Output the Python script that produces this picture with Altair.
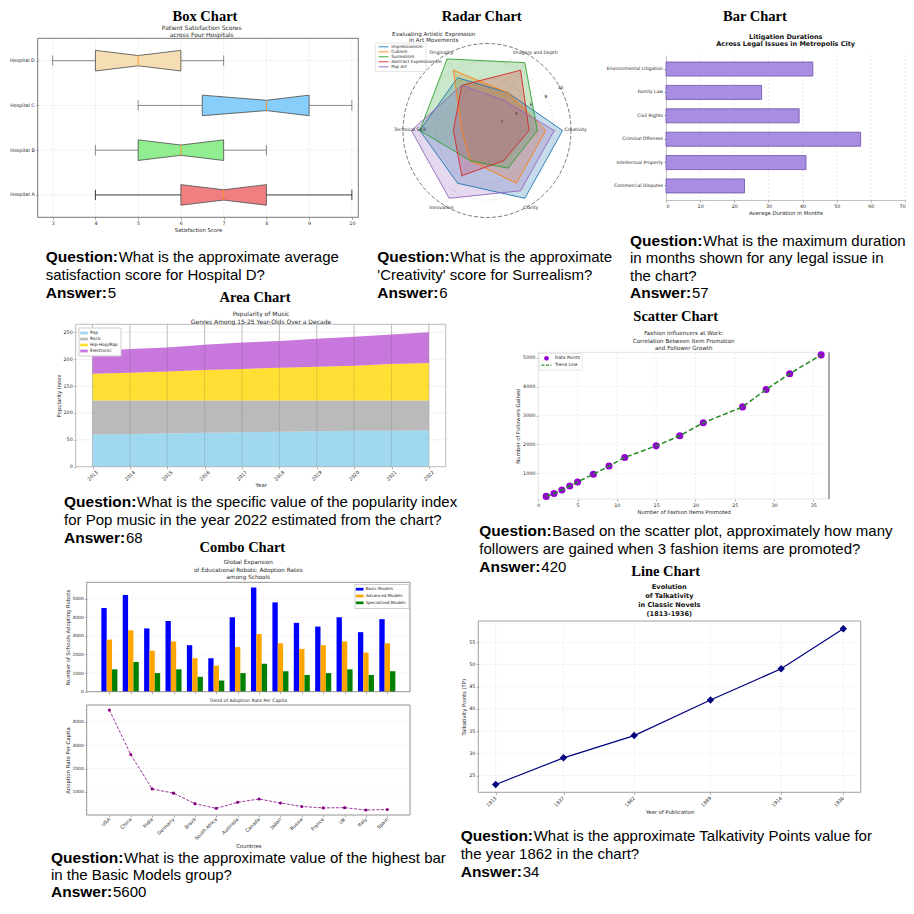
import json
import altair as alt
import numpy as np
import pandas as pd

# ======================= DATA =======================
# Box chart
hospitals = ["Hospital A", "Hospital B", "Hospital C", "Hospital D"]
box_low = [4, 4, 5, 3]
box_q1 = [6, 5, 6.5, 4]
box_median = [7, 6, 8, 5]
box_q3 = [8, 7, 9, 6]
box_high = [10, 8, 10, 7]

# Radar chart
radar_axes = ["Creativity", "Imagery and Depth", "Originality", "Technical Skill", "Innovation", "Clarity"]
movements = ["Impressionism", "Cubism", "Surrealism", "Abstract Expressionism", "Pop Art"]
impressionism = [9, 5, 7, 8, 7, 9]
cubism = [7, 5, 8, 3, 4, 7]
surrealism = [6, 9, 9.5, 8, 4, 5]
abstract_expr = [5, 8, 6, 4, 6, 4]
pop_art = [8, 4, 6, 9, 9, 8]
radar_ticks = [2, 4, 6, 8, 10]

# Bar chart
legal_issues = ["Environmental Litigation", "Family Law", "Civil Rights",
                "Criminal Offenses", "Intellectual Property", "Commercial Disputes"]
durations = [43, 28, 39, 57, 41, 23]

# Area chart
years = [2013, 2014, 2015, 2016, 2017, 2018, 2019, 2020, 2021, 2022]
genres = ["Pop", "Rock", "Hip-Hop/Rap", "Electronic"]
pop = [60, 61, 62, 63, 64, 65, 66, 67, 67, 68]
rock = [63, 62, 61, 60, 59, 58, 57, 56, 56, 55]
hiphop = [50, 52, 54, 57, 59, 61, 63, 65, 68, 70]
electronic = [42, 44, 45, 47, 49, 50, 52, 54, 55, 57]

# Scatter chart
items_promoted = [1, 2, 3, 4, 5, 7, 9, 11, 15, 18, 21, 26, 29, 32, 36]
followers_gained = [200, 300, 420, 560, 700, 970, 1250, 1550, 1950, 2300, 2750, 3300, 3900, 4450, 5100]

# Combo chart
countries = ["USA", "China", "India", "Germany", "Brazil", "South Africa", "Australia",
             "Canada", "Japan", "Russia", "France", "UK", "Italy", "Spain"]
model_groups = ["Basic Models", "Advanced Models", "Specialized Models"]
basic_models = [4500, 5200, 3400, 3800, 2500, 1800, 4000, 5600, 4800, 3700, 3500, 4000, 3200, 3900]
advanced_models = [2800, 3300, 2200, 2700, 1800, 1400, 2400, 3100, 2600, 2300, 2500, 2700, 2100, 2600]
specialized_models = [1200, 1600, 1000, 1200, 800, 600, 1000, 1500, 1100, 900, 1000, 1200, 900, 1100]
adoption_per_capita = [4500, 2600, 1130, 950, 500, 300, 560, 700, 530, 380, 320, 330, 230, 250]

# Line chart
pub_years = [1813, 1837, 1862, 1889, 1914, 1936]
talkativity = [23, 29, 34, 42, 49, 58]

# ======================= STYLE / LAYOUT =======================
W, H = 898, 893
FONT = "DejaVu Sans"
QFONT = "Liberation Sans"
HFONT = "Liberation Serif"
INK = "#262626"
box_colors = ["#F08080", "#90EE90", "#87CEFA", "#F5DEB3"]
whisker_colors = ["#111111", "#6e6e6e", "#6e6e6e", "#6e6e6e"]
radar_colors = ["#1f77b4", "#ff7f0e", "#2ca02c", "#d62728", "#9467bd"]
genre_colors = ["#87CEEB", "#A9A9A9", "#FFD700", "#BA55D3"]
model_colors = ["#0000FF", "#FFA500", "#008000"]
ONE = pd.DataFrame({"k": [0]})
RECT_SYM = "M-1.4,-0.5H1.4V0.5H-1.4Z"


def P(v):
    return v - 8


def lin(domain, r0, r1):
    return alt.Scale(domain=list(domain), range=[P(r0), P(r1)], zero=False, nice=False)


def txt(s, x, y, size, font=FONT, weight="normal", align="center", baseline="middle",
        color=INK, angle=None):
    kw = dict(text=s, fontSize=size, font=font, fontWeight=weight, align=align,
              baseline=baseline, color=color)
    if angle is not None:
        kw["angle"] = angle
    return alt.Chart(ONE).mark_text(**kw).encode(x=alt.value(P(x)), y=alt.value(P(y)))


def question(x, y0, lines, answer, lh=18, qw=73, aw=62):
    c = "#000000"
    out = [txt("Question:", x, y0, 15.5, QFONT, "bold", "left", "alphabetic", c),
           txt(lines[0], x + qw, y0, 15, QFONT, "normal", "left", "alphabetic", c)]
    for i, ln in enumerate(lines[1:], 1):
        out.append(txt(ln, x, y0 + i * lh, 15, QFONT, "normal", "left", "alphabetic", c))
    ya = y0 + len(lines) * lh
    out.append(txt("Answer:", x, ya, 15.5, QFONT, "bold", "left", "alphabetic", c))
    out.append(txt(answer, x + aw, ya, 15, QFONT, "normal", "left", "alphabetic", c))
    return out


def heading(s, x, y):
    return txt(s, x, y, 14.5, HFONT, "bold", "center", "alphabetic", "#000000")


def base_axis(**kw):
    d = dict(labelFont=FONT, titleFont=FONT, labelFontSize=4.8, titleFontSize=5.3,
             labelColor=INK, titleColor=INK, titleFontWeight="normal", tickSize=2,
             tickColor="#555555", tickWidth=0.5, labelPadding=1.5, titlePadding=2,
             domain=False, grid=False, labelFlush=False, labelOverlap=False)
    d.update(kw)
    return d


def xaxis(values, y_bottom, title, **kw):
    d = base_axis(orient="bottom", offset=P(y_bottom) - H, title=title)
    if values is not None:
        d["values"] = values
    d.update(kw)
    return alt.Axis(**d)


def yaxis(values, x_left, title, **kw):
    d = base_axis(orient="left", offset=-P(x_left), title=title)
    if values is not None:
        d["values"] = values
    d.update(kw)
    return alt.Axis(**d)


def frame(xs, ys, xa, ya, xd, yd, color, width=0.8):
    df = pd.DataFrame({"a": [xd[0]], "b": [xd[1]], "c": [yd[0]], "d": [yd[1]]})
    return alt.Chart(df).mark_rect(filled=False, stroke=color, strokeWidth=width).encode(
        x=alt.X("a:Q", scale=xs, axis=xa), x2="b:Q",
        y=alt.Y("c:Q", scale=ys, axis=ya), y2="d:Q")


def vgrid(xs, ys, xa, ya, ticks, yd, color="#d0d0d0", dash=(2, 2), width=0.5, opacity=1.0):
    df = pd.DataFrame({"v": ticks, "lo": [yd[0]] * len(ticks), "hi": [yd[1]] * len(ticks)})
    kw = dict(color=color, strokeWidth=width, opacity=opacity)
    if dash:
        kw["strokeDash"] = list(dash)
    return alt.Chart(df).mark_rule(**kw).encode(
        x=alt.X("v:Q", scale=xs, axis=xa), y=alt.Y("lo:Q", scale=ys, axis=ya), y2="hi:Q")


def hgrid(xs, ys, xa, ya, ticks, xd, color="#d0d0d0", dash=(2, 2), width=0.5, opacity=1.0):
    df = pd.DataFrame({"v": ticks, "lo": [xd[0]] * len(ticks), "hi": [xd[1]] * len(ticks)})
    kw = dict(color=color, strokeWidth=width, opacity=opacity)
    if dash:
        kw["strokeDash"] = list(dash)
    return alt.Chart(df).mark_rule(**kw).encode(
        y=alt.Y("v:Q", scale=ys, axis=ya), x=alt.X("lo:Q", scale=xs, axis=xa), x2="hi:Q")


layers = []

# ======================= BOX CHART =======================
bxd, byd = [2.65, 10.15], [0.5, 4.5]
bxs = lin(bxd, 37.7, 358.3)
bys = lin(byd, 217.3, 38.3)
box_xt = list(range(3, 11))
box_yt = [1, 2, 3, 4]
bxa = xaxis(box_xt, 217.3, "Satisfaction Score")
bya = yaxis(box_yt, 37.7, None, labelExpr=json.dumps([""] + hospitals) + "[datum.value]")
BW, NW = 0.23, 0.115
poly_rows, edge_rows, stat_rows = [], [], []
for i, hname in enumerate(hospitals):
    c = i + 1
    for xv, half in ((box_q1[i], BW), (box_median[i], NW), (box_q3[i], BW)):
        poly_rows.append({"h": hname, "x": xv, "top": c + half, "bot": c - half})
    pts = [(box_q1[i], c + BW), (box_median[i], c + NW), (box_q3[i], c + BW),
           (box_q3[i], c - BW), (box_median[i], c - NW), (box_q1[i], c - BW), (box_q1[i], c + BW)]
    for o, (xv, yv) in enumerate(pts):
        edge_rows.append({"h": hname, "o": o, "x": xv, "y": yv})
    stat_rows.append({"h": hname, "c": c, "lo": box_low[i], "q1": box_q1[i], "med": box_median[i],
                      "q3": box_q3[i], "hi": box_high[i], "clo": c - NW, "chi": c + NW})
poly_df, edge_df, stat_df = pd.DataFrame(poly_rows), pd.DataFrame(edge_rows), pd.DataFrame(stat_rows)


def BX(f):
    return alt.X(f, scale=bxs, axis=bxa)


def BY(f):
    return alt.Y(f, scale=bys, axis=bya)


wstroke = alt.Stroke("h:N", scale=alt.Scale(domain=hospitals, range=whisker_colors), legend=None)
box_layer = alt.layer(
    vgrid(bxs, bys, bxa, bya, box_xt, byd),
    hgrid(bxs, bys, bxa, bya, box_yt, bxd),
    alt.Chart(poly_df).mark_area(opacity=1).encode(
        x=BX("x:Q"), y=BY("top:Q"), y2="bot:Q",
        color=alt.Color("h:N", scale=alt.Scale(domain=hospitals, range=box_colors), legend=None)),
    alt.Chart(edge_df).mark_line(color="#4a4a4a", strokeWidth=0.8).encode(
        x=BX("x:Q"), y=BY("y:Q"), detail="h:N", order="o:Q"),
    alt.Chart(stat_df).mark_rule(strokeWidth=0.8).encode(x=BX("lo:Q"), x2="q1:Q", y=BY("c:Q"), stroke=wstroke),
    alt.Chart(stat_df).mark_rule(strokeWidth=0.8).encode(x=BX("q3:Q"), x2="hi:Q", y=BY("c:Q"), stroke=wstroke),
    alt.Chart(stat_df).mark_rule(strokeWidth=0.8).encode(x=BX("lo:Q"), y=BY("clo:Q"), y2="chi:Q", stroke=wstroke),
    alt.Chart(stat_df).mark_rule(strokeWidth=0.8).encode(x=BX("hi:Q"), y=BY("clo:Q"), y2="chi:Q", stroke=wstroke),
    alt.Chart(stat_df).mark_rule(color="#FF8C1A", strokeWidth=0.9).encode(x=BX("med:Q"), y=BY("clo:Q"), y2="chi:Q"),
    frame(bxs, bys, bxa, bya, bxd, byd, "#555555"),
)
layers.append(box_layer)
layers += [heading("Box Chart", 205, 21.2),
           txt("Patient Satisfaction Scores", 201.7, 27.8, 6),
           txt("across Four Hospitals", 201.7, 34.6, 6)]
layers += question(45.7, 262.3, ["What is the approximate average", "satisfaction score for Hospital D?"], "5")

# ======================= RADAR CHART =======================
rcx, rcy, rrx, rry = 487, 130.5, 84, 87
rxs = lin([-10, 10], rcx - rrx, rcx + rrx)
rys = lin([-10, 10], rcy + rry, rcy - rry)


def RX(f):
    return alt.X(f, scale=rxs, axis=None)


def RY(f):
    return alt.Y(f, scale=rys, axis=None)


ring_rows = []
for r in radar_ticks:
    for o, a in enumerate(np.linspace(0, 2 * np.pi, 121)):
        ring_rows.append({"r": r, "o": o, "x": r * np.cos(a), "y": r * np.sin(a)})
ring_df = pd.DataFrame(ring_rows)
spoke_df = pd.DataFrame({"x0": [0.0] * 6, "y0": [0.0] * 6,
                         "x": [10 * np.cos(np.deg2rad(60 * k)) for k in range(6)],
                         "y": [10 * np.sin(np.deg2rad(60 * k)) for k in range(6)]})
radar_series = [impressionism, cubism, surrealism, abstract_expr, pop_art]
rrows = []
for m, vals in zip(movements, radar_series):
    for o in range(7):
        k = o % 6
        th = np.deg2rad(60 * k)
        rrows.append({"m": m, "mf": m, "o": o, "x": vals[k] * np.cos(th), "y": vals[k] * np.sin(th)})
radar_df = pd.DataFrame(rrows)
rtick_df = pd.DataFrame({"t": [str(v) for v in radar_ticks],
                         "x": [v * np.cos(np.deg2rad(29)) for v in radar_ticks],
                         "y": [v * np.sin(np.deg2rad(29)) for v in radar_ticks]})
radar_layer = alt.layer(
    alt.Chart(ring_df).transform_filter("datum.r < 10").mark_line(
        color="#c8c8c8", strokeWidth=0.5, strokeDash=[2, 2]).encode(
        x=RX("x:Q"), y=RY("y:Q"), detail="r:N", order="o:Q"),
    alt.Chart(spoke_df).mark_rule(color="#d0d0d0", strokeWidth=0.5, strokeDash=[2, 2]).encode(
        x=RX("x0:Q"), y=RY("y0:Q"), x2="x:Q", y2="y:Q"),
    alt.Chart(radar_df).mark_line(filled=True, fillOpacity=0.25, strokeWidth=0).encode(
        x=RX("x:Q"), y=RY("y:Q"), order="o:Q",
        fill=alt.Fill("mf:N", scale=alt.Scale(domain=movements, range=radar_colors), legend=None)),
    alt.Chart(radar_df).mark_line(strokeWidth=0.9).encode(
        x=RX("x:Q"), y=RY("y:Q"), order="o:Q",
        color=alt.Color("m:N", scale=alt.Scale(domain=movements, range=radar_colors), legend=None)),
    alt.Chart(ring_df).transform_filter("datum.r == 10").mark_line(
        color="#444444", strokeWidth=0.7, strokeDash=[4, 2]).encode(
        x=RX("x:Q"), y=RY("y:Q"), detail="r:N", order="o:Q"),
    alt.Chart(rtick_df).mark_text(fontSize=4.4, font=FONT, color=INK).encode(
        x=RX("x:Q"), y=RY("y:Q"), text="t:N"),
)
layers.append(radar_layer)
radar_label_pos = [(575.7, 130), (535.3, 52.7), (441.5, 52.7), (410, 130), (441.5, 208.3), (530.7, 208.3)]
for lab, (lx, ly) in zip(radar_axes, radar_label_pos):
    layers.append(txt(lab, lx, ly, 4.6))
layers += [heading("Radar Chart", 481.7, 21.2),
           txt("Evaluating Artistic Expression", 433.7, 33.6, 5.6),
           txt("in Art Movements", 433.7, 39.8, 5.6)]
# radar legend box
layers.append(alt.Chart(ONE).mark_rect(fill="white", fillOpacity=0.8, stroke="#cccccc", strokeWidth=0.5).encode(
    x=alt.value(P(375.3)), x2=alt.value(P(426)), y=alt.value(P(43.2)), y2=alt.value(P(71.4))))
for i, (m, col) in enumerate(zip(movements, radar_colors)):
    ly = 46.8 + 5.0 * i
    layers.append(alt.Chart(ONE).mark_rule(color=col, strokeWidth=0.9).encode(
        x=alt.value(P(378.5)), x2=alt.value(P(388.5)), y=alt.value(P(ly))))
    layers.append(txt(m, 391.3, ly, 4.3, align="left"))
layers += question(377.3, 262.3, ["What is the approximate", "'Creativity' score for Surrealism?"], "6")

# ======================= BAR CHART =======================
bar_xd = [0, 70]
bar_xs = lin(bar_xd, 666, 905)
bar_ys = alt.Scale(domain=legal_issues, range=[P(55), P(200)], paddingInner=0.4, paddingOuter=0.3)
bar_xt = list(range(0, 71, 10))
bar_xa = xaxis(bar_xt, 200, "Average Duration in Months", labelFlush=True,
               domain=True, domainColor="#999999", domainWidth=0.6)
bar_ya = yaxis(None, 666, None, domain=True, domainColor="#999999", domainWidth=0.6,
               labelFontSize=4.6)
bar_df = pd.DataFrame({"issue": legal_issues, "d": durations})
bar_grid_df = pd.DataFrame({"v": bar_xt[1:]})
bar_layer = alt.layer(
    alt.Chart(bar_grid_df).mark_rule(color="#d0d0d0", strokeWidth=0.5, strokeDash=[2, 2]).encode(
        x=alt.X("v:Q", scale=bar_xs, axis=bar_xa), y=alt.value(P(55)), y2=alt.value(P(200))),
    alt.Chart(bar_df).mark_bar(color="#A98DE2", stroke="#6A51A3", strokeWidth=0.8).encode(
        x=alt.X("d:Q", scale=bar_xs, axis=bar_xa), x2=alt.datum(0),
        y=alt.Y("issue:N", scale=bar_ys, axis=bar_ya)),
)
layers.append(bar_layer)
layers += [heading("Bar Chart", 755, 21.2),
           txt("Litigation Durations", 785.7, 36.7, 6.5, weight="bold", color="#111111"),
           txt("Across Legal Issues in Metropolis City", 785.7, 44.3, 6.5, weight="bold", color="#111111")]
layers += question(630, 246, ["What is the maximum duration", "in months shown for any legal issue in",
                              "the chart?"], "57", lh=17.3)

# ======================= AREA CHART =======================
axd, ayd = [2012.55, 2022.45], [0, 265]
axs = lin(axd, 75.7, 445.7)
ays = lin(ayd, 466.7, 324.3)
area_yt = list(range(0, 251, 50))
area_xa = xaxis(years, 466.7, "Year", format="d", labelAngle=-45, labelAlign="center",
                labelBaseline="middle", labelPadding=7, titlePadding=1)
area_ya = yaxis(area_yt, 75.7, "Popularity Index")
area_rows = []
for g, vals in enumerate([pop, rock, hiphop, electronic]):
    for yr, v in zip(years, vals):
        area_rows.append({"year": yr, "genre": genres[g], "g": g, "v": v})
area_df = pd.DataFrame(area_rows)
area_legend = alt.Legend(title=None, orient="none", legendX=P(78.5), legendY=P(327.5),
                         symbolType=RECT_SYM, symbolSize=30, symbolStrokeWidth=0,
                         labelFont=FONT, labelFontSize=4.4, labelColor=INK,
                         fillColor="white", strokeColor="#cccccc", padding=2.5,
                         rowPadding=1, labelOffset=3, symbolOpacity=0.8)
area_layer = alt.layer(
    hgrid(axs, ays, area_xa, area_ya, area_yt[1:], axd, color="#e0e0e0", dash=None),
    vgrid(axs, ays, area_xa, area_ya, years, ayd, color="#b0b0b0", dash=None, width=0.6),
    alt.Chart(area_df).mark_area(opacity=0.8).encode(
        x=alt.X("year:Q", scale=axs, axis=area_xa),
        y=alt.Y("v:Q", scale=ays, axis=area_ya, stack="zero"),
        color=alt.Color("genre:N", scale=alt.Scale(domain=genres, range=genre_colors), legend=area_legend),
        order=alt.Order("g:Q")),
    vgrid(axs, ays, area_xa, area_ya, years, ayd, color="#808080", dash=None, width=0.6, opacity=0.3),
    frame(axs, ays, area_xa, area_ya, axd, ayd, "#aaaaaa"),
)
layers.append(area_layer)
layers += [heading("Area Chart", 255, 301.5),
           txt("Popularity of Music", 261, 314, 6),
           txt("Genres Among 15-25 Year-Olds Over a Decade", 261, 321.7, 6)]
layers += question(64, 507, ["What is the specific value of the popularity index",
                             "for Pop music in the year 2022 estimated from the chart?"], "68")

# ======================= SCATTER CHART =======================
sxd, syd = [0, 37], [110, 5190]
sxs = lin(sxd, 538.3, 829)
sys_ = lin(syd, 499, 352.3)
sc_xt = list(range(0, 36, 5))
sc_yt = [1000, 2000, 3000, 4000, 5000]
sc_xa = xaxis(sc_xt, 499, "Number of Fashion Items Promoted")
sc_ya = yaxis(sc_yt, 538.3, "Number of Followers Gained", format="d")
sc_df = pd.DataFrame({"n": items_promoted, "f": followers_gained})
spine_df = pd.DataFrame({"a": [sxd[1]], "c": [syd[0]], "d": [syd[1]]})
scatter_layer = alt.layer(
    vgrid(sxs, sys_, sc_xa, sc_ya, sc_xt, syd, color="#dcdcdc"),
    hgrid(sxs, sys_, sc_xa, sc_ya, sc_yt, sxd, color="#dcdcdc"),
    frame(sxs, sys_, sc_xa, sc_ya, sxd, syd, "#e0e0e0"),
    alt.Chart(sc_df).mark_circle(size=50, color="#9400D3", opacity=1).encode(
        x=alt.X("n:Q", scale=sxs, axis=sc_xa), y=alt.Y("f:Q", scale=sys_, axis=sc_ya)),
    alt.Chart(sc_df).mark_line(color="#228B22", strokeWidth=1.5, strokeDash=[5, 2.5]).encode(
        x=alt.X("n:Q", scale=sxs, axis=sc_xa), y=alt.Y("f:Q", scale=sys_, axis=sc_ya)),
    alt.Chart(spine_df).mark_rule(color="#444444", strokeWidth=0.8).encode(
        x=alt.X("a:Q", scale=sxs, axis=sc_xa), y=alt.Y("c:Q", scale=sys_, axis=sc_ya), y2="d:Q"),
)
layers.append(scatter_layer)
layers += [
    alt.Chart(ONE).mark_rect(fill="white", stroke="#cccccc", strokeWidth=0.5).encode(
        x=alt.value(P(539)), x2=alt.value(P(582)), y=alt.value(P(353.5)), y2=alt.value(P(370))),
    alt.Chart(ONE).mark_circle(size=22, color="#9400D3", opacity=1).encode(
        x=alt.value(P(546.5)), y=alt.value(P(358.3))),
    alt.Chart(ONE).mark_rule(color="#228B22", strokeWidth=1.3, strokeDash=[3, 1.5]).encode(
        x=alt.value(P(541.5)), x2=alt.value(P(551.5)), y=alt.value(P(365.2))),
    txt("Data Points", 555, 358.3, 4.4, align="left"),
    txt("Trend Line", 555, 365.2, 4.4, align="left"),
    heading("Scatter Chart", 675.7, 320.5),
    txt("Fashion Influencers at Work:", 683.7, 333.3, 5.6),
    txt("Correlation Between Item Promotion", 683.7, 340.6, 5.6),
    txt("and Follower Growth", 683.7, 347.8, 5.6),
]
layers += question(479.3, 536, ["Based on the scatter plot, approximately how many",
                                "followers are gained when 3 fashion items are promoted?"], "420")

# ======================= COMBO CHART =======================
cxd = [-1.06, 14.06]
ctyd = [0, 5880]
cbyd = [17, 4713]
cxs_t = lin(cxd, 86.7, 410)
cys_t = lin(ctyd, 691.7, 582.3)
cxs_b = lin(cxd, 86.7, 410)
cys_b = lin(cbyd, 815, 705)
ct_yt = list(range(0, 5001, 1000))
cb_yt = [1000, 2000, 3000, 4000]
ct_xa = xaxis(list(range(14)), 691.7, None, labels=False)
ct_ya = yaxis(ct_yt, 86.7, "Number of Schools Adopting Robots", format="d", labelFontSize=4.4)
cb_xa = xaxis(list(range(14)), 815, "Countries", labelAngle=-45, labelAlign="right",
              labelBaseline="middle", labelPadding=1.5, titlePadding=3,
              labelExpr=json.dumps(countries) + "[datum.value]")
cb_ya = yaxis(cb_yt, 86.7, "Adoption Rate Per Capita", format="d", labelFontSize=4.4)
combo_rows = []
for s, vals in enumerate([basic_models, advanced_models, specialized_models]):
    for i, v in enumerate(vals):
        combo_rows.append({"i": i, "s": s, "series": model_groups[s], "v": v})
combo_df = pd.DataFrame(combo_rows)
combo_legend = alt.Legend(title=None, orient="none", legendX=P(354.5), legendY=P(584),
                          symbolType=RECT_SYM, symbolSize=30, symbolStrokeWidth=0,
                          labelFont=FONT, labelFontSize=4.2, labelColor=INK,
                          fillColor="white", strokeColor="#cccccc", padding=2.2,
                          rowPadding=0.8, labelOffset=3)
combo_top = alt.layer(
    hgrid(cxs_t, cys_t, ct_xa, ct_ya, ct_yt[1:], cxd, color="#d8d8d8"),
    alt.Chart(combo_df).transform_calculate(
        xa="datum.i + (datum.s - 1) * 0.25 - 0.125", xb="datum.i + (datum.s - 1) * 0.25 + 0.125"
    ).mark_rect().encode(
        x=alt.X("xa:Q", scale=cxs_t, axis=ct_xa), x2="xb:Q",
        y=alt.Y("v:Q", scale=cys_t, axis=ct_ya), y2=alt.datum(0),
        color=alt.Color("series:N", scale=alt.Scale(domain=model_groups, range=model_colors),
                        legend=combo_legend)),
    frame(cxs_t, cys_t, ct_xa, ct_ya, cxd, ctyd, "#777777"),
)
cb_df = pd.DataFrame({"i": list(range(len(countries))), "v": adoption_per_capita})
combo_bottom = alt.layer(
    hgrid(cxs_b, cys_b, cb_xa, cb_ya, cb_yt, cxd, color="#e0e0e0"),
    alt.Chart(cb_df).mark_line(color="#800080", strokeWidth=0.8, strokeDash=[3, 1.5]).encode(
        x=alt.X("i:Q", scale=cxs_b, axis=cb_xa), y=alt.Y("v:Q", scale=cys_b, axis=cb_ya)),
    alt.Chart(cb_df).mark_circle(size=10, color="#800080", opacity=1).encode(
        x=alt.X("i:Q", scale=cxs_b, axis=cb_xa), y=alt.Y("v:Q", scale=cys_b, axis=cb_ya)),
    frame(cxs_b, cys_b, cb_xa, cb_ya, cxd, cbyd, "#777777"),
)
layers += [combo_top, combo_bottom]
layers += [heading("Combo Chart", 242.3, 551.5),
           txt("Global Expansion", 248.3, 562.3, 5.7),
           txt("of Educational Robots: Adoption Rates", 248.3, 569.7, 5.7),
           txt("among Schools", 248.3, 577, 5.7),
           txt("Trend of Adoption Rate Per Capita", 248.3, 701, 4.6)]
layers += question(51, 862.7, ["What is the approximate value of the highest bar",
                               "in the Basic Models group?"], "5600", lh=17)

# ======================= LINE CHART =======================
lxd, lyd = [1806.85, 1942.15], [21.25, 59.75]
lxs = lin(lxd, 478.3, 860.7)
lys = lin(lyd, 792.3, 621)
ln_yt = list(range(25, 56, 5))
ln_xa = xaxis(pub_years, 792.3, "Year of Publication", format="d", labelAngle=-45,
              labelAlign="right", labelBaseline="middle", labelPadding=3, titlePadding=2)
ln_ya = yaxis(ln_yt, 478.3, "Talkativity Points (TP)")
ln_df = pd.DataFrame({"yr": pub_years, "tp": talkativity})
line_layer = alt.layer(
    vgrid(lxs, lys, ln_xa, ln_ya, pub_years, lyd, color="#d8d8d8"),
    hgrid(lxs, lys, ln_xa, ln_ya, ln_yt, lxd, color="#d8d8d8"),
    alt.Chart(ln_df).mark_line(color="#000080", strokeWidth=1.2).encode(
        x=alt.X("yr:Q", scale=lxs, axis=ln_xa), y=alt.Y("tp:Q", scale=lys, axis=ln_ya)),
    alt.Chart(ln_df).mark_point(shape="diamond", filled=True, size=55, color="#000080", opacity=1).encode(
        x=alt.X("yr:Q", scale=lxs, axis=ln_xa), y=alt.Y("tp:Q", scale=lys, axis=ln_ya)),
    frame(lxs, lys, ln_xa, ln_ya, lxd, lyd, "#888888"),
)
layers.append(line_layer)
layers += [heading("Line Chart", 665.7, 575.5),
           txt("Evolution", 669.3, 587.3, 6.6, weight="bold", color="#111111"),
           txt("of Talkativity", 669.3, 596.3, 6.6, weight="bold", color="#111111"),
           txt("in Classic Novels", 669.3, 605.3, 6.6, weight="bold", color="#111111"),
           txt("(1813-1936)", 669.3, 614.3, 6.6, weight="bold", color="#111111")]
layers += question(460.7, 840.7, ["What is the approximate Talkativity Points value for",
                                  "the year 1862 in the chart?"], "34")

# ======================= ASSEMBLE =======================
chart = alt.layer(*layers).resolve_scale(
    x="independent", y="independent", color="independent", fill="independent", stroke="independent"
).properties(
    width=W, height=H, padding=0, autosize=alt.AutoSizeParams(type="none")
).configure_view(strokeWidth=0)

chart.save("out.html", embed_options={"renderer": "svg", "actions": False})
